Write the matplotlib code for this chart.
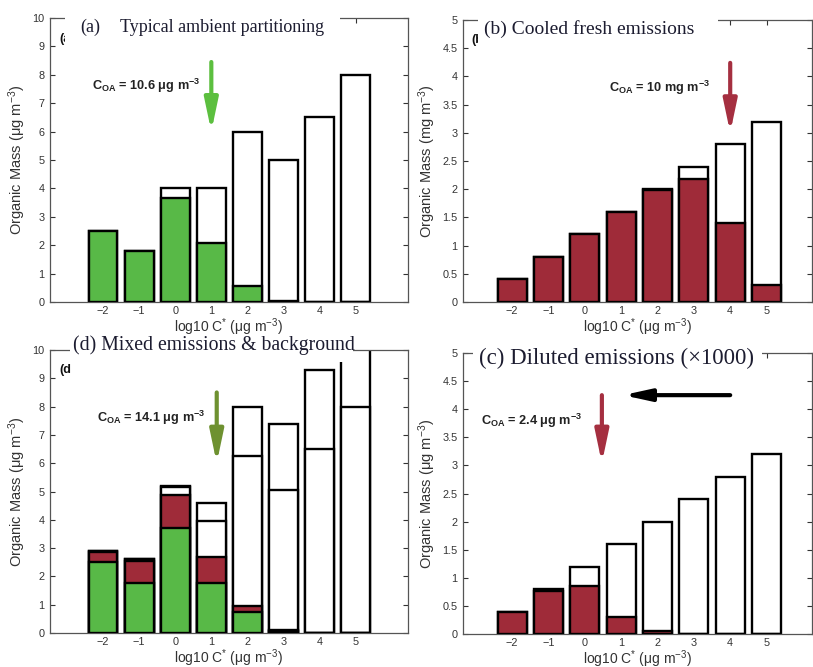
import matplotlib
matplotlib.use("Agg")
import matplotlib.pyplot as plt
from matplotlib.patches import Rectangle
import numpy as np

plt.rcParams['font.family'] = ['Liberation Sans', 'DejaVu Sans']
plt.rcParams['mathtext.default'] = 'regular'

# ---------------- data ----------------
log_cstar = [-2, -1, 0, 1, 2, 3, 4, 5]

# (a) typical ambient partitioning (ug m-3)
a_particle = [2.5, 1.78, 3.65, 2.07, 0.58, 0.05, 0.0, 0.0]
a_total = [2.5, 1.8, 4.0, 4.0, 6.0, 5.0, 6.5, 8.0]

# (b) cooled fresh emissions (mg m-3)
b_particle = [0.4, 0.8, 1.2, 1.6, 1.98, 2.18, 1.4, 0.3]
b_total = [0.4, 0.8, 1.2, 1.6, 2.0, 2.4, 2.8, 3.2]

# (c) diluted emissions (x1000) (ug m-3)
c_particle = [0.4, 0.77, 0.85, 0.3, 0.05, 0.0, 0.0, 0.0]
c_total = [0.4, 0.8, 1.2, 1.6, 2.0, 2.4, 2.8, 3.2]

# (d) mixed emissions & background (cumulative levels, ug m-3)
d_ambient_particle = [2.5, 1.78, 3.72, 1.75, 0.73, 0.07, 0.0, 0.0]
d_emission_particle_top = [2.87, 2.55, 4.87, 2.7, 0.97, 0.1, 0.0, 0.0]
d_ambient_vapor_top = [2.9, 2.6, 5.15, 3.95, 6.25, 5.05, 6.5, 8.0]
d_total = [2.9, 2.6, 5.2, 4.6, 8.0, 7.4, 9.3, 11.0]

coa_labels = {
    'a': r'$C_{OA}$ = 10.6 μg m$^{-3}$',
    'b': r'$C_{OA}$ = 10 mg m$^{-3}$',
    'c': r'$C_{OA}$ = 2.4 μg m$^{-3}$',
    'd': r'$C_{OA}$ = 14.1 μg m$^{-3}$',
}
titles = {
    'a': ('(a)', 'Typical ambient partitioning'),
    'b': ('(b) Cooled fresh emissions',),
    'c': ('(c) Diluted emissions (×1000)',),
    'd': ('(d) Mixed emissions & background',),
}

GREEN = '#58b947'
RED = '#9f2b39'
ARROW_GREEN = '#5cbf3f'
ARROW_OLIVE = '#6e9130'
ARROW_RED = '#a52f40'
TXT = '#333333'

W, H = 813, 667
fig = plt.figure(figsize=(W / 100, H / 100), dpi=100)


def rect(l, t, r, b):
    return [l / W, 1 - b / H, (r - l) / W, (b - t) / H]


def style(ax, ylim, yticks, ylabel, xlim):
    ax.set_xlim(*xlim)
    ax.set_ylim(*ylim)
    ax.set_xticks(log_cstar)
    ax.set_yticks(yticks)
    ax.set_yticklabels(['%g' % v for v in yticks])
    ax.tick_params(direction='in', top=True, right=True, length=3.5,
                   width=0.8, labelsize=7.8, colors=TXT, labelcolor=TXT, pad=4)
    ax.tick_params(axis='x', pad=3)
    for s in ax.spines.values():
        s.set_color('#555555')
        s.set_linewidth(0.9)
    ax.set_ylabel(ylabel, fontsize=10.5, color=TXT, labelpad=3)
    ax.set_xlabel(r'log10 C$^{*}$ (μg m$^{-3}$)', fontsize=10, color=TXT, labelpad=0.5)


BW = 0.8
LW = 1.7
ARW = dict(arrowstyle='-|>,head_length=1.9,head_width=0.4', lw=3, shrinkA=0, shrinkB=0)

# (a)
axa = fig.add_axes(rect(50, 18, 408, 302))
axa.bar(log_cstar, a_total, width=BW, color='white', edgecolor='black', linewidth=LW, zorder=2)
axa.bar(log_cstar, a_particle, width=BW, color=GREEN, edgecolor='black', linewidth=LW, zorder=3)
style(axa, (0, 10), list(range(0, 11)), r'Organic Mass (μg m$^{-3}$)', (-3.47, 6.45))
axa.annotate('', xy=(1.0, 6.0), xytext=(1.0, 8.45), arrowprops=dict(color=ARROW_GREEN, **ARW))
axa.text(-2.3, 7.6, coa_labels['a'], fontsize=9.2, fontweight='bold', color='#222222', va='center')

# (b)
axb = fig.add_axes(rect(463, 20, 812, 302))
axb.bar(log_cstar, b_total, width=BW, color='white', edgecolor='black', linewidth=LW, zorder=2)
axb.bar(log_cstar, b_particle, width=BW, color=RED, edgecolor='black', linewidth=LW, zorder=3)
style(axb, (0, 5), list(np.arange(0, 5.01, 0.5)), r'Organic Mass (mg m$^{-3}$)', (-3.35, 6.25))
axb.annotate('', xy=(4.0, 3.0), xytext=(4.0, 4.24), arrowprops=dict(color=ARROW_RED, **ARW))
axb.text(0.67, 3.8, coa_labels['b'], fontsize=9.2, fontweight='bold', color='#222222', va='center')

# (d)
axd = fig.add_axes(rect(50, 350, 408, 633))
axd.bar(log_cstar, d_total, width=BW, color='white', edgecolor='black', linewidth=LW, zorder=2)
axd.bar(log_cstar, d_ambient_vapor_top, width=BW, color='white', edgecolor='black', linewidth=LW, zorder=3)
axd.bar(log_cstar, d_emission_particle_top, width=BW, color=RED, edgecolor='black', linewidth=LW, zorder=4)
axd.bar(log_cstar, d_ambient_particle, width=BW, color=GREEN, edgecolor='black', linewidth=LW, zorder=5)
style(axd, (0, 10), list(range(0, 11)), r'Organic Mass (μg m$^{-3}$)', (-3.47, 6.45))
axd.annotate('', xy=(1.15, 6.0), xytext=(1.15, 8.5), arrowprops=dict(color=ARROW_OLIVE, **ARW))
axd.text(-2.17, 7.6, coa_labels['d'], fontsize=9.2, fontweight='bold', color='#222222', va='center')

# (c)
axc = fig.add_axes(rect(463, 353, 812, 634))
axc.bar(log_cstar, c_total, width=BW, color='white', edgecolor='black', linewidth=LW, zorder=2)
axc.bar(log_cstar, c_particle, width=BW, color=RED, edgecolor='black', linewidth=LW, zorder=3)
style(axc, (0, 5), list(np.arange(0, 5.01, 0.5)), r'Organic Mass (μg m$^{-3}$)', (-3.35, 6.25))
axc.annotate('', xy=(0.47, 3.04), xytext=(0.47, 4.25), arrowprops=dict(color=ARROW_RED, **ARW))
axc.annotate('', xy=(1.05, 4.25), xytext=(4.0, 4.25),
             arrowprops=dict(arrowstyle='-|>,head_length=1.6,head_width=0.35',
                             color='black', lw=3, shrinkA=0, shrinkB=0))
axc.text(-2.85, 3.8, coa_labels['c'], fontsize=9.2, fontweight='bold', color='#222222', va='center')


def fx(px):
    return px / W


def fy(py):
    return 1 - py / H


# residual bold panel letters (partly hidden by title boxes)
for lbl, (px, py) in {'(a)': (59, 39), '(b)': (471, 40), '(c)': (473, 373), '(d': (59, 370)}.items():
    fig.text(fx(px), fy(py), lbl, fontsize=9, fontweight='bold', color='#111111',
             ha='left', va='center', zorder=9)

# white title boxes
for (l, t, r, b) in [(65, 4, 340, 47), (478, 4, 718, 47), (473, 338, 762, 380), (70, 334, 353, 362)]:
    fig.add_artist(Rectangle((fx(l), fy(b)), (r - l) / W, (b - t) / H,
                             transform=fig.transFigure, facecolor='white',
                             edgecolor='none', zorder=10))

TCOL = '#1c1c30'
serif = ['Liberation Serif', 'DejaVu Serif']
fig.text(fx(80), fy(27), titles['a'][0], fontsize=13, family=serif, color=TCOL, va='center', zorder=11)
fig.text(fx(120), fy(27), titles['a'][1], fontsize=13, family=serif, color=TCOL, va='center', zorder=11)
fig.text(fx(484), fy(29), titles['b'][0], fontsize=14, family=serif, color=TCOL, va='center', zorder=11)
fig.text(fx(73), fy(345), titles['d'][0], fontsize=14.2, family=serif, color=TCOL, va='center', zorder=11)
fig.text(fx(479), fy(358), titles['c'][0], fontsize=16.5, family=serif, color=TCOL, va='center', zorder=11)

fig.savefig('out.png', dpi=100)
